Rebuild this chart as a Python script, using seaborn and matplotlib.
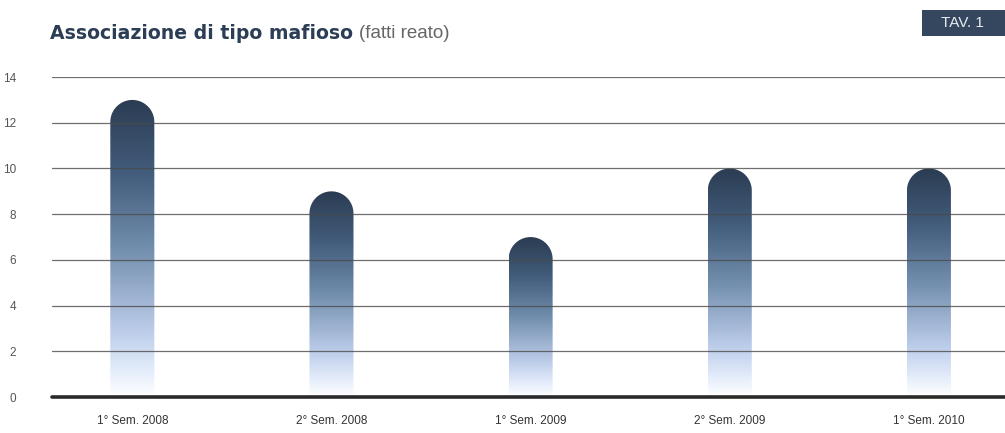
import numpy as np
import pandas as pd
import matplotlib
matplotlib.use('Agg')
import matplotlib.pyplot as plt
import seaborn as sns
from matplotlib.path import Path
from matplotlib.patches import PathPatch, Rectangle
from matplotlib.colors import LinearSegmentedColormap

# data
semestri = ['1° Sem. 2008', '2° Sem. 2008', '1° Sem. 2009', '2° Sem. 2009', '1° Sem. 2010']
fatti_reato = [13, 9, 7, 10, 10]
y_ticks = [0, 2, 4, 6, 8, 10, 12, 14]

df = pd.DataFrame({'semestre': semestri, 'fatti': fatti_reato})

sns.set_style('white')
plt.rcParams['font.family'] = ['Liberation Sans', 'DejaVu Sans']

fig = plt.figure(figsize=(10.05, 4.33), dpi=100)
ax = fig.add_axes([0.052, 0.083, 0.948, 0.739])

sns.barplot(data=df, x='semestre', y='fatti', width=0.221, color='#2c3e55', ax=ax)
ax.set_xlim(-0.402, 4.382)
ax.set_ylim(0, 14)

# gradient bars with rounded tops
cmap = LinearSegmentedColormap.from_list(
    'bar', [(0.0, '#ffffff'), (0.08, '#e6eefb'), (0.22, '#bccdea'),
            (0.5, '#728ead'), (0.75, '#435d7c'), (1.0, '#2b3c52')])
grad = np.linspace(0, 1, 256).reshape(-1, 1)

fig.canvas.draw()
px_per_x = ax.bbox.width / (4.382 + 0.402)
px_per_y = ax.bbox.height / 14.0

for p in list(ax.patches):
    x0 = p.get_x()
    w = p.get_width()
    h = p.get_height()
    p.set_visible(False)
    rx = w / 2
    ry = rx * px_per_x / px_per_y
    xc = x0 + rx
    top = h - ry
    t = np.linspace(0, np.pi, 40)
    verts = [(x0, 0), (x0 + w, 0), (x0 + w, top)]
    verts += [(xc + rx * np.cos(a), top + ry * np.sin(a)) for a in t]
    verts += [(x0, 0)]
    codes = [Path.MOVETO] + [Path.LINETO] * (len(verts) - 2) + [Path.CLOSEPOLY]
    clip = PathPatch(Path(verts, codes), facecolor='none', edgecolor='none',
                     transform=ax.transData)
    ax.add_patch(clip)
    im = ax.imshow(grad, cmap=cmap, origin='lower', aspect='auto',
                   extent=[x0, x0 + w, 0, h], zorder=2)
    im.set_clip_path(clip)

ax.set_xlim(-0.402, 4.382)
ax.set_ylim(0, 14)

# grid lines on top of the bars
for yv in y_ticks[1:]:
    ax.axhline(yv, color='#4a4a4a', lw=0.9, alpha=0.8, zorder=3)
ax.axhline(0, color='#2a2a2a', lw=2.6, zorder=4, clip_on=False)

for s in ax.spines.values():
    s.set_visible(False)
ax.set_yticks(y_ticks)
ax.set_yticklabels([str(v) for v in y_ticks], color='#555555', fontsize=8.5)
ax.tick_params(axis='y', length=0, pad=26)
ax.tick_params(axis='x', length=0, pad=13, labelsize=8.5, labelcolor='#333333')
ax.set_xlabel('')
ax.set_ylabel('')

# title
title = fig.text(0.05, 0.922, 'Associazione di tipo mafioso', fontsize=13.6, fontweight='heavy',
                 color='#2c3e55', va='center', family=['DejaVu Sans'])
fig.canvas.draw()
bb = title.get_window_extent()
fig.text((bb.x1 + 6) / fig.bbox.width, 0.922, '(fatti reato)', fontsize=13.5,
         color='#666666', va='center')

# TAV. 1 box
fig.patches.append(Rectangle((0.917, 0.917), 0.083, 0.06, transform=fig.transFigure,
                             facecolor='#34475e', edgecolor='none'))
fig.text(0.958, 0.946, 'TAV. 1', fontsize=11, color='#e8ecf0', ha='center', va='center')

fig.savefig('out.png', dpi=100)
